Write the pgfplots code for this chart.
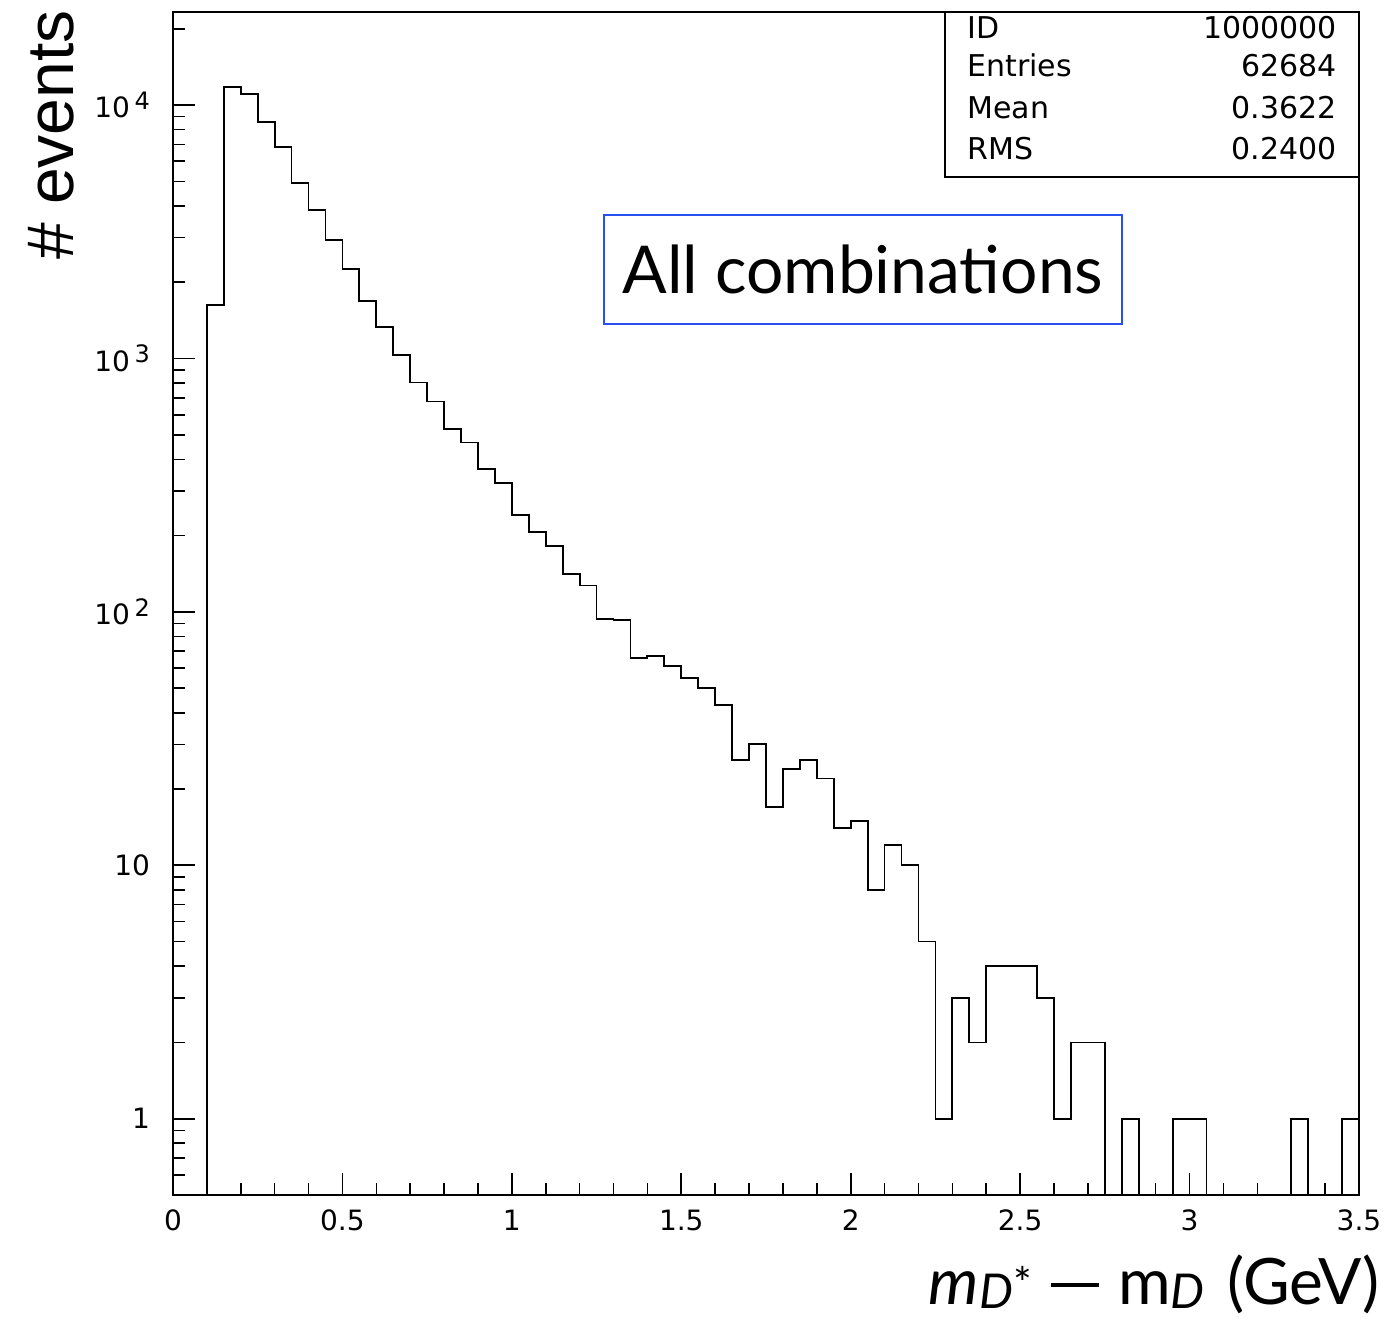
\documentclass[border=0pt]{standalone}
\usepackage{fontspec}
\setmainfont{DejaVu Sans}
\newfontfamily\lab{Lato}
\newfontfamily\arial{Liberation Sans}
\usepackage{pgfplots}
\usepackage{pgfplotstable}
\pgfplotsset{compat=1.18}
\definecolor{boxblue}{RGB}{40,80,240}
\pgfplotstableread{
x y
0.00 0.1
0.10 1626
0.15 11800
0.20 11090
0.25 8550
0.30 6850
0.35 4940
0.40 3850
0.45 2934
0.50 2248
0.55 1690
0.60 1335
0.65 1033
0.70 804
0.75 676
0.80 526
0.85 466
0.90 366
0.95 323
1.00 241
1.05 207
1.10 182
1.15 141
1.20 127
1.25 94
1.30 93
1.35 66
1.40 67
1.45 61
1.50 55
1.55 50
1.60 43
1.65 26
1.70 30
1.75 17
1.80 24
1.85 26
1.90 22
1.95 14
2.00 15
2.05 8
2.10 12
2.15 10
2.20 5
2.25 1
2.30 3
2.35 2
2.40 4
2.45 4
2.50 4
2.55 3
2.60 1
2.65 2
2.70 2
2.75 0.1
2.80 1
2.85 0.1
2.90 0.1
2.95 1
3.00 1
3.05 0.1
3.10 0.1
3.15 0.1
3.20 0.1
3.25 0.1
3.30 1
3.35 0.1
3.40 0.1
3.45 1
3.50 0.1
}\hist
\newcommand{\sub}[1]{\raisebox{-0.06em}{\fontsize{24}{24}\selectfont\itshape #1}}
\begin{document}
\begin{tikzpicture}
\useasboundingbox (-86.5pt,-63pt) rectangle (608pt,597.5pt);
\begin{axis}[
  name=ax,
  at={(0pt,0pt)}, anchor=south west,
  scale only axis, width=593pt, height=591.5pt,
  xmin=0, xmax=3.5, ymode=log, ymin=0.5, ymax=23300,
  axis line style={line width=0.9pt},
  tick style={black, line width=0.8pt},
  tick align=inside,
  xtick pos=bottom, ytick pos=left,
  major tick length=11pt, minor tick length=6pt,
  xtick={0,0.5,1,1.5,2,2.5,3,3.5},
  xticklabels={0,0.5,1,1.5,2,2.5,3,3.5},
  minor xtick={0.1,0.2,0.3,0.4,0.6,0.7,0.8,0.9,1.1,1.2,1.3,1.4,1.6,1.7,1.8,1.9,2.1,2.2,2.3,2.4,2.6,2.7,2.8,2.9,3.1,3.2,3.3,3.4},
  ytick={1,10,100,1000,10000},
  yticklabels={1,10,10\,\raisebox{0.55ex}{\fontsize{12}{12}\selectfont 2},10\,\raisebox{0.55ex}{\fontsize{12}{12}\selectfont 3},10\,\raisebox{0.55ex}{\fontsize{12}{12}\selectfont 4}},
  minor ytick={0.6,0.7,0.8,0.9,2,3,4,5,6,7,8,9,20,30,40,50,60,70,80,90,200,300,400,500,600,700,800,900,2000,3000,4000,5000,6000,7000,8000,9000,20000},
  tick label style={font=\fontsize{14}{16}\selectfont},
  xticklabel style={yshift=-4pt},
  yticklabel style={xshift=-8pt},
]
\addplot[const plot mark left, black, line width=0.9pt, no markers] table[x=x,y=y] {\hist};
\draw[fill=white, line width=0.8pt] (rel axis cs:0.651,0.8605) rectangle (rel axis cs:1,1);
\begin{scope}[font=\fontsize{15}{17}\selectfont]
\node[anchor=base west, inner sep=0pt] at (rel axis cs:0.6695,0.978) {ID};
\node[anchor=base east, inner sep=0pt] at (rel axis cs:0.9815,0.978) {1000000};
\node[anchor=base west, inner sep=0pt] at (rel axis cs:0.6695,0.9453) {Entries};
\node[anchor=base east, inner sep=0pt] at (rel axis cs:0.9815,0.9453) {62684};
\node[anchor=base west, inner sep=0pt] at (rel axis cs:0.6695,0.9102) {Mean};
\node[anchor=base east, inner sep=0pt] at (rel axis cs:0.9815,0.9102) {0.3622};
\node[anchor=base west, inner sep=0pt] at (rel axis cs:0.6695,0.8757) {RMS};
\node[anchor=base east, inner sep=0pt] at (rel axis cs:0.9815,0.8757) {0.2400};
\end{scope}
\draw[boxblue, line width=1pt] (rel axis cs:0.3634,0.7363) rectangle (rel axis cs:0.8002,0.8284);
\node[font=\lab\fontsize{33}{36}\selectfont, inner sep=0pt] at (rel axis cs:0.5818,0.78235) {All combinations};
\end{axis}
\node[font=\arial\fontsize{33}{36}\selectfont, rotate=90, anchor=south east, inner sep=0pt] at ([xshift=-49pt,yshift=1pt]ax.north west) {\# events};
\node[font=\lab\fontsize{32}{35}\selectfont, anchor=base east, inner sep=0pt] at ([xshift=10.5pt,yshift=-55pt]ax.south east) {\textit{m}\sub{D}\raisebox{0.08em}{\fontsize{22}{22}\selectfont *}\hspace{0.3em}\rule[0.28em]{0.75em}{0.06em}\hspace{0.3em}m\sub{D}\hspace{0.1em} (GeV)};
\end{tikzpicture}
\end{document}
